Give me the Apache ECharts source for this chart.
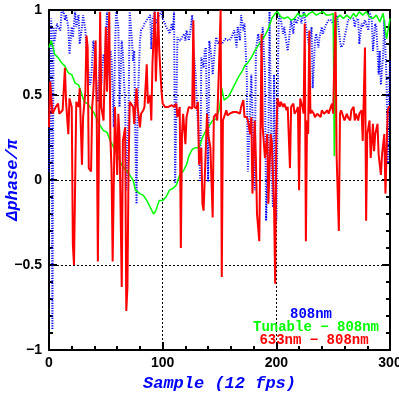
<!DOCTYPE html>
<html>
<head>
<meta charset="utf-8">
<script src="https://cdn.jsdelivr.net/npm/echarts@6/dist/echarts.min.js"></script>
<style>
  html, body { margin: 0; padding: 0; background: #fff; }
  #chart { width: 399px; height: 399px; }
</style>
</head>
<body>
<div id="chart"></div>
<script>
// samples (12 fps) and phase difference / pi
let blueX = [0,2,3,4,5,7,8,10,11,13,14,15,17,18,20,21,23,24,26,27,29,30,32,33,35,36,37,39,40,42,43,45,46,48,49,51,52,54,55,57,58,59,61,62,64,65,67,68,70,71,73,74,75,76,77,78,80,81,83,84,86,87,89,90,91,93,94,96,97,99,100,102,103,105,106,108,109,110,111,113,114,116,117,119,120,121,123,124,126,127,129,130,132,133,134,136,137,138,140,141,143,144,146,147,149,150,152,155,158,160,163,165,166,168,169,171,172,174,175,177,178,180,181,182,184,185,187,188,190,191,193,194,196,197,198,199,200,202,203,204,206,207,209,210,212,213,215,216,218,219,221,222,224,225,226,229,231,232,234,235,237,238,240,241,243,244,246,247,248,250,253,254,256,257,259,260,262,263,265,266,268,269,270,272,273,275,276,278,281,282,284,285,287,288,290,291,292,294,295,297,298,300];
let blueY = [0.05,0.95,-0.88,0.9,0.82,0.92,0.9,0.88,0.99,0.99,0.94,0.97,0.9,0.74,0.9,0.84,0.99,0.9,0.97,0.8,0.9,0.97,0.88,0.76,0.62,0.56,0.58,0.82,0.76,0.52,0.46,0.78,0.56,0.74,0.7,0.99,0.62,0.76,0.72,0.31,0.74,0.99,0.9,0.43,0.82,0.74,0.43,-0.06,0.39,0.99,0.82,0.7,0.76,0.23,-0.14,0.43,0.82,0.88,0.9,0.92,0.94,0.95,0.97,0.77,0.94,0.99,0.92,0.95,0.97,0.99,0.95,0.92,0.9,0.88,0.86,0.92,0.88,0.99,-0.02,0.84,0.82,0.82,0.84,0.86,0.82,0.88,0.82,0.86,0.97,0.78,0.62,0.46,0.21,-0.01,0.72,0.66,0.76,0.78,-0.01,0.82,0.72,0.62,0.78,0.84,0.8,0.82,0.8,0.83,0.82,0.83,0.88,0.78,0.9,0.82,0.97,0.88,0.92,0.62,0.05,0.43,0.62,0.15,-0.06,0.76,0.86,0.82,0.76,0.9,0.62,-0.24,0.19,0.99,0.03,-0.16,0.62,0.03,-0.24,0.94,0.97,0.94,0.86,0.9,0.8,0.76,0.88,0.94,0.86,0.95,0.92,0.95,0.97,0.92,0.99,0.95,0.94,0.78,0.9,0.54,0.82,0.86,0.78,0.84,0.9,0.86,0.9,0.92,0.94,0.95,0.94,0.92,0.97,0.94,0.82,0.78,0.8,0.84,0.9,0.94,0.95,0.94,0.95,0.9,0.94,0.95,0.8,0.92,0.9,0.94,0.88,0.99,0.94,0.76,0.92,0.9,0.62,0.76,0.56,0.74,0.94,0.58,0.1,0.7];

let greenX = [0,2,5,8,11,14,17,20,23,26,28,31,34,37,40,42,45,48,51,54,57,60,63,66,69,72,74,76,77,80,83,86,89,92,94,97,100,103,106,109,112,115,118,121,123,126,129,132,135,138,141,144,147,150,152,154,158,161,164,167,170,172,175,178,181,184,187,190,193,196,199,201,204,207,210,213,216,219,222,225,226,229,232,235,238,241,244,247,250,251,253,256,259,262,265,268,270,273,276,279,282,285,288,291,294,297,300];
let greenY = [0.78,0.82,0.74,0.72,0.69,0.67,0.63,0.62,0.57,0.56,0.52,0.46,0.45,0.42,0.39,0.36,0.32,0.29,0.28,0.23,0.19,0.15,0.1,0.07,0.05,0.02,0.0,-0.06,-0.05,-0.08,-0.09,-0.12,-0.16,-0.2,-0.18,-0.12,-0.12,-0.1,-0.06,-0.05,-0.03,0.03,0.05,0.09,0.14,0.18,0.19,0.19,0.25,0.29,0.32,0.35,0.36,0.42,0.54,0.47,0.49,0.53,0.57,0.61,0.64,0.67,0.69,0.72,0.76,0.79,0.82,0.85,0.89,0.95,0.98,0.99,0.96,0.95,0.96,0.94,0.95,0.98,0.96,0.98,0.96,0.98,0.99,0.97,0.98,0.99,0.97,0.97,0.98,0.14,0.95,0.97,0.95,0.97,0.95,0.98,0.96,0.99,0.97,0.99,0.96,0.95,0.97,0.93,0.98,0.83,0.95];

let redX = [0,1,3,6,8,9,12,14,15,17,18,20,21,22,24,26,27,29,30,32,33,34,35,37,38,39,41,42,43,45,46,48,50,51,53,54,55,56,58,60,61,62,64,65,67,68,69,70,71,72,74,75,77,78,80,81,83,84,86,87,89,90,91,93,94,96,97,99,100,102,103,105,106,108,109,110,112,113,115,116,117,118,120,121,123,124,126,127,128,130,131,132,134,135,136,138,139,140,142,144,145,147,148,150,151,152,153,155,156,157,159,160,162,163,165,166,168,169,171,172,174,175,177,178,179,181,182,183,185,186,187,188,190,192,193,195,196,198,199,200,201,203,204,206,207,209,210,212,213,215,216,218,219,220,221,223,224,225,226,227,228,229,230,231,233,234,236,237,239,240,242,243,245,246,248,249,250,252,253,255,256,257,259,260,262,263,265,266,268,269,270,272,273,275,276,278,279,280,282,283,285,286,287,289,290,292,293,295,296,298,299,300];
let redY = [0.31,0.58,0.39,0.43,0.45,0.39,0.41,0.66,0.46,0.27,0.48,0.43,-0.38,-0.5,0.46,0.43,0.54,0.09,0.37,0.52,0.85,0.78,0.07,0.05,0.43,0.52,0.82,0.37,-0.48,0.99,0.43,0.35,0.9,0.52,0.99,0.25,0.07,-0.48,0.43,0.03,0.39,0.27,-0.63,0.23,0.31,-0.77,-0.63,0.07,0.46,0.45,0.43,0.33,0.54,0.43,0.31,0.39,0.41,0.43,0.68,0.45,0.5,0.35,0.68,0.99,0.58,0.99,0.76,0.52,0.45,0.43,0.44,0.43,0.43,0.44,0.45,0.43,0.45,0.37,0.43,-0.4,0.27,0.39,0.21,0.37,0.43,0.43,0.42,0.94,0.43,0.42,0.46,0.09,0.19,-0.14,-0.18,0.19,0.39,0.27,0.19,-0.22,0.37,0.39,0.35,0.76,1.0,-0.57,0.35,0.39,0.41,0.38,0.39,0.39,0.4,0.41,0.4,0.41,0.39,0.43,0.47,0.37,0.37,0.35,0.27,0.37,-0.08,0.35,0.13,-0.2,-0.36,0.23,0.86,0.31,0.13,0.27,-0.14,0.27,0.23,-0.16,-0.61,0.27,0.48,0.43,0.46,0.43,0.45,0.41,0.43,0.07,0.43,0.45,0.39,0.41,0.43,-0.06,0.48,0.43,0.39,0.92,-0.36,0.35,0.27,0.88,0.39,0.41,0.39,0.37,0.39,0.4,0.37,0.41,0.39,0.39,0.41,0.39,0.43,0.45,0.39,0.99,0.15,-0.3,0.39,0.41,0.37,0.35,0.39,0.37,0.35,0.41,0.43,0.35,0.39,0.35,0.39,0.41,0.23,0.78,-0.24,0.27,0.35,0.13,0.33,0.17,0.27,0.33,0.15,0.03,0.15,0.27,-0.08,0.41,0.43,0.43];

let seriesNames = ["808nm", "Tunable \u2212 808nm", "633nm \u2212 808nm"];
let seriesColors = ["#0000ff", "#00ff00", "#ff0000"];

let pairs = (xs, ys) => xs.map((x, i) => [x, ys[i]]);

let frame = {
    axisLine: { show: true, onZero: false, lineStyle: { color: "#000", width: 2 } },
    axisTick: { show: true, inside: true, length: 8, lineStyle: { color: "#000", width: 2 } },
    minorTick: { show: true, splitNumber: 5, length: 4, lineStyle: { color: "#000", width: 2 } }
};
let gridLine = { show: true, lineStyle: { color: "#000", width: 1, type: [2, 2] } };
let labelFont = { color: "#000", fontFamily: "Liberation Sans", fontWeight: "bold", fontSize: 14 };
let nameFont = { color: "#0000ff", fontFamily: "Liberation Mono", fontStyle: "italic", fontWeight: "bold", fontSize: 17 };

let option = {
    animation: false,
    backgroundColor: "#fff",
    grid: { left: 49, right: 9, top: 10, bottom: 49, containLabel: false, outerBoundsMode: "none" },
    xAxis: [
        Object.assign({
            type: "value", min: 0, max: 300, interval: 100, position: "bottom",
            name: "Sample (12 fps)", nameLocation: "middle", nameGap: 24, nameTextStyle: nameFont,
            axisLabel: Object.assign({ margin: 6 }, labelFont),
            splitLine: gridLine
        }, frame),
        Object.assign({
            type: "value", min: 0, max: 300, interval: 100, position: "top",
            axisLabel: { show: false }, splitLine: { show: false }
        }, frame)
    ],
    yAxis: [
        Object.assign({
            type: "value", min: -1, max: 1, interval: 0.5, position: "left",
            name: "\u0394phase/\u03c0", nameLocation: "middle", nameGap: 28, nameRotate: 90,
            nameMoveOverlap: false, nameTextStyle: nameFont,
            axisLabel: Object.assign({
                margin: 7,
                formatter: v => String(v).replace("-", "\u2212")
            }, labelFont),
            splitLine: gridLine
        }, frame),
        Object.assign({
            type: "value", min: -1, max: 1, interval: 0.5, position: "right",
            axisLabel: { show: false }, splitLine: { show: false }
        }, frame)
    ],
    series: [
        {
            name: seriesNames[0], type: "line", showSymbol: false, symbol: "none",
            data: pairs(blueX, blueY),
            lineStyle: { color: seriesColors[0], width: 2, type: [1, 1.5] }
        },
        {
            name: seriesNames[1], type: "line", showSymbol: false, symbol: "none",
            data: pairs(greenX, greenY),
            lineStyle: { color: seriesColors[1], width: 1.5 }
        },
        {
            name: seriesNames[2], type: "line", showSymbol: false, symbol: "none",
            data: pairs(redX, redY),
            lineStyle: { color: seriesColors[2], width: 2 }
        }
    ],
    // key text, centred in the lower right of the plot
    graphic: seriesNames.map((t, i) => ({
        type: "text", x: [311, 316, 314][i], y: 314 + i * 13, z: 100,
        style: {
            text: t, align: "center", verticalAlign: "middle",
            fill: seriesColors[i],
            font: "bold 14px 'Liberation Mono'"
        }
    }))
};

let myChart = echarts.init(document.getElementById("chart"));
myChart.setOption(option);
</script>
</body>
</html>
